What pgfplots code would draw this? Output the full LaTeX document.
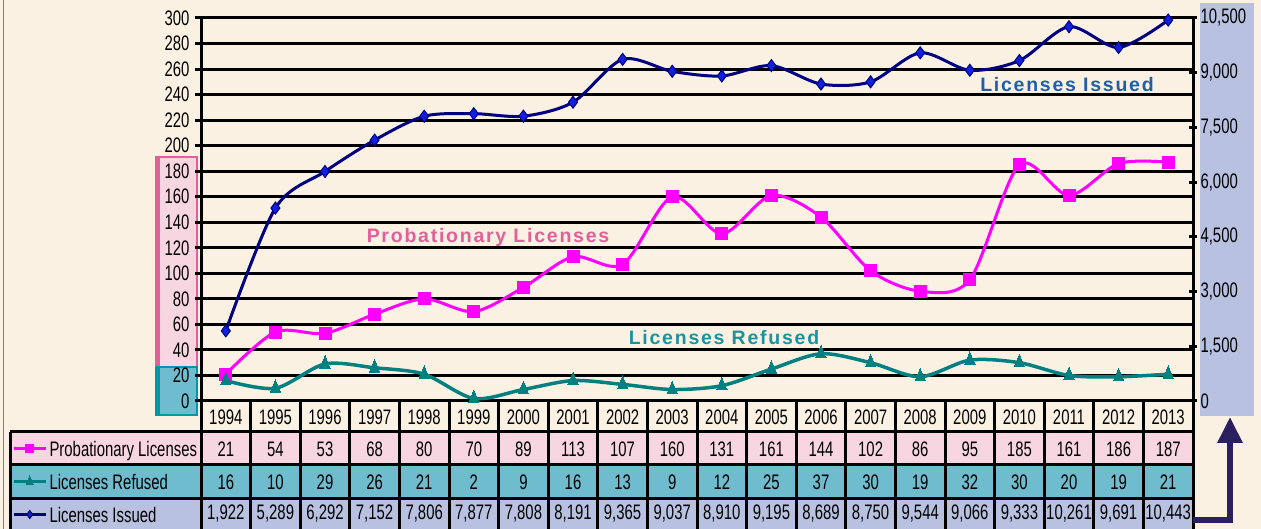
\documentclass[border=0pt]{standalone}
\usepackage{fontspec}
\usepackage{pgfplots}
\pgfplotsset{compat=1.18}
\usetikzlibrary{arrows.meta}
\setmainfont[FakeStretch=0.71]{Liberation Sans}
\newfontfamily\annfont[LetterSpace=9]{Liberation Sans}
\definecolor{bgc}{RGB}{251,241,226}
\definecolor{pinkfill}{RGB}{247,214,226}
\definecolor{pinkedge}{RGB}{224,96,154}
\definecolor{tealfill}{RGB}{110,188,205}
\definecolor{tealedge}{RGB}{0,151,167}
\definecolor{lavfill}{RGB}{184,194,224}
\definecolor{probc}{RGB}{255,0,255}
\definecolor{refc}{RGB}{0,128,128}
\definecolor{issc}{RGB}{0,0,128}
\definecolor{issfill}{RGB}{16,32,224}
\definecolor{anniss}{RGB}{31,95,168}
\definecolor{annprob}{RGB}{224,96,154}
\definecolor{annref}{RGB}{26,147,160}
\definecolor{arrowc}{RGB}{42,32,96}
\newcommand\tf{\fontsize{21}{24}\selectfont}
\newcommand\af{\annfont\bfseries\fontsize{19.5}{22}\selectfont}

\pgfplotstableread{
x prob ref iss
0 21 16 1922
1 54 10 5289
2 53 29 6292
3 68 26 7152
4 80 21 7806
5 70 2 7877
6 89 9 7808
7 113 16 8191
8 107 13 9365
9 160 9 9037
10 131 12 8910
11 161 25 9195
12 144 37 8689
13 102 30 8750
14 86 19 9544
15 95 32 9066
16 185 30 9333
17 161 20 10261
18 186 19 9691
19 187 21 10443
}\datatable

\begin{document}
\begin{tikzpicture}[x=1pt,y=1pt]
\useasboundingbox (0,0) rectangle (1261,529);
\fill[bgc] (0,0) rectangle (1261,529);
\draw[gray, line width=1pt] (3,0) -- (3,529);
% axis label boxes
\fill[lavfill] (1200,113) rectangle (1254,526);
\filldraw[fill=pinkfill, draw=pinkedge, line width=2pt] (157,162) rectangle (197,372);
\fill[pinkedge] (155,162) rectangle (160,373);
\filldraw[fill=tealfill, draw=tealedge, line width=2pt] (157,114) rectangle (197,162);
\fill[tealedge] (155,113) rectangle (160,162);
% data table
\fill[pinkfill] (10,64) rectangle (1193,97);
\fill[tealfill] (10,30) rectangle (1193,64);
\fill[lavfill] (10,0) rectangle (1193,30);
\draw[line width=3pt] (10,97) -- (1193,97);
\draw[line width=3pt] (10,64) -- (1193,64);
\draw[line width=3pt] (10,30) -- (1193,30);
\draw[line width=3pt] (10,97) -- (10,0);
\foreach \k in {0,...,20} \draw[line width=3pt] ({201+49.6*\k},128) -- ({201+49.6*\k},0);
\foreach \t [count=\i from 0] in {1994,1995,1996,1997,1998,1999,2000,2001,2002,2003,2004,2005,2006,2007,2008,2009,2010,2011,2012,2013}
  \node[font=\tf] at ({225.8+49.6*\i},112) {\t};
\foreach \t [count=\i from 0] in {21,54,53,68,80,70,89,113,107,160,131,161,144,102,86,95,185,161,186,187}
  \node[font=\tf] at ({225.8+49.6*\i},80) {\t};
\foreach \t [count=\i from 0] in {16,10,29,26,21,2,9,16,13,9,12,25,37,30,19,32,30,20,19,21}
  \node[font=\tf] at ({225.8+49.6*\i},47) {\t};
\foreach \t [count=\i from 0] in {{1,922},{5,289},{6,292},{7,152},{7,806},{7,877},{7,808},{8,191},{9,365},{9,037},{8,910},{9,195},{8,689},{8,750},{9,544},{9,066},{9,333},{10,261},{9,691},{10,443}}
  \node[font=\tf] at ({225.8+49.6*\i},15) {\t};
% arrow
\draw[arrowc, line width=6pt, -{Triangle[width=24pt,length=26pt]}] (1193,9) -- (1230,9) -- (1230,112);

\begin{axis}[
  at={(201pt,128pt)}, anchor=south west, scale only axis,
  width=992pt, height=383pt,
  xmin=-0.5, xmax=19.5, ymin=0, ymax=300,
  axis x line=none, axis y line*=left,
  axis line style={line width=3pt, black, -},
  ytick={0,20,...,300}, ymajorgrids,
  grid style={line width=3pt, black},
  major tick style={line width=3pt, black},
  tick align=outside, major tick length=6pt,
  yticklabel style={font=\tf, xshift=-2pt},
  /pgf/number format/assume math mode=true,
  clip=false,
  legend style={at={(-0.1905,-0.081)}, anchor=north west, draw=none, fill=none,
    font=\tf, inner sep=0pt, outer sep=0pt, row sep=0pt, column sep=2pt,
    nodes={inner sep=0pt, text height=15pt, text depth=0pt, minimum height=33pt}},
  legend cell align=left,
  legend image code/.code={\draw[#1, mark size=4pt, mark repeat=2, mark phase=2] plot coordinates {(0pt,0pt) (16pt,0pt) (32pt,0pt)};},
]
\addplot[probc, line width=3pt, smooth, mark=square*, mark size=6pt,
  mark options={fill=probc, draw=probc, line width=0pt}] table[x=x, y=prob] {\datatable};
\addlegendentry{Probationary Licenses}
\addplot[refc, line width=3.5pt, smooth, mark=triangle*, mark size=6pt,
  mark options={fill=refc, draw=refc, line width=0pt, yscale=1.4}] table[x=x, y=ref] {\datatable};
\addlegendentry{Licenses Refused}
\addlegendimage{issc, line width=3pt, mark=diamond*, mark options={fill=issfill, draw=issc, line width=1pt}}
\addlegendentry{Licenses Issued}
\end{axis}

\begin{axis}[
  at={(201pt,128pt)}, anchor=south west, scale only axis,
  width=992pt, height=383pt,
  xmin=-0.5, xmax=19.5, ymin=0, ymax=10500,
  axis x line=none, axis y line*=right,
  axis line style={line width=3pt, black, -},
  ytick={0,1500,...,10500},
  major tick style={line width=3pt, black},
  tick align=center, major tick length=8pt,
  yticklabel style={font=\tf, anchor=west},
  scaled y ticks=false,
  /pgf/number format/assume math mode=true,
  /pgf/number format/1000 sep={,},
  /pgf/number format/fixed,
  clip=false,
]
\addplot[issc, line width=3pt, smooth, mark=diamond*, mark size=6pt,
  mark options={fill=issfill, draw=issc, line width=1pt}] table[x=x, y=iss] {\datatable};
\end{axis}

\node[font=\af, text=anniss, anchor=base] at (1067,437) {Licenses Issued};
\node[font=\af, text=annprob, anchor=base] at (488,286) {Probationary Licenses};
\node[font=\af, text=annref, anchor=base] at (724,184) {Licenses Refused};
\end{tikzpicture}
\end{document}
